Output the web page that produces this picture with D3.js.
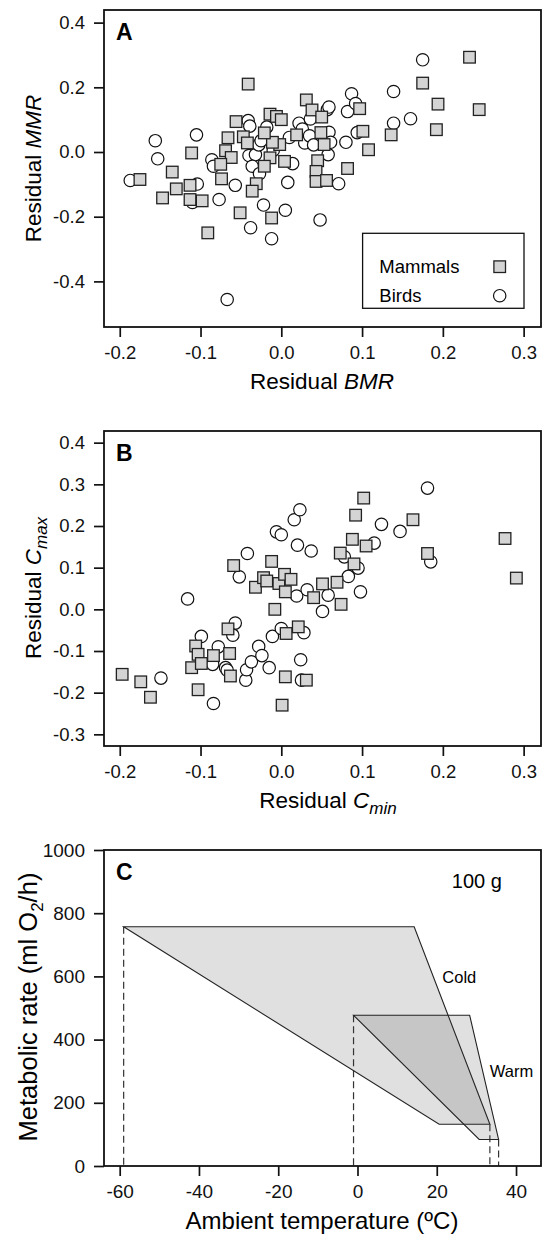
<!DOCTYPE html>
<html>
<head>
<meta charset="utf-8">
<script src="https://cdn.jsdelivr.net/npm/d3@7"></script>
<style>
  body { margin: 0; background: #fff; }
  svg { display: block; font-family: "Liberation Sans", Arial, Helvetica, sans-serif; }
</style>
</head>
<body>
<svg id="fig" width="544" height="1237"></svg>
<script>
// ---- panel A : residual BMR vs residual MMR ----
const mammalsA = [
  [0.233,0.293],[0.175,0.213],[0.194,0.148],[0.245,0.131],[0.192,0.069],[0.136,0.053],
  [0.108,0.007],[0.101,0.064],[0.097,0.134],[0.082,-0.051],[0.031,0.161],[0.038,0.130],
  [0.050,0.108],[0.049,0.060],[0.053,0.023],[0.045,-0.027],[0.043,-0.060],[0.043,-0.091],
  [0.056,-0.088],[0.019,0.053],[-0.002,0.023],[0.004,-0.029],[-0.014,0.117],[-0.006,0.110],
  [0.000,0.100],[-0.011,0.030],[-0.021,0.059],[-0.014,-0.018],[-0.021,-0.044],[-0.012,-0.204],
  [-0.041,0.210],[-0.056,0.094],[-0.047,0.047],[-0.042,0.028],[-0.066,0.044],[-0.069,0.004],
  [-0.062,-0.017],[-0.075,-0.038],[-0.074,-0.083],[-0.031,-0.098],[-0.036,-0.121],[-0.051,-0.188],
  [-0.091,-0.250],[-0.111,-0.003],[-0.135,-0.062],[-0.130,-0.114],[-0.113,-0.103],[-0.113,-0.147],
  [-0.098,-0.151],[-0.147,-0.142],[-0.175,-0.085]
];
const birdsA = [
  [-0.187,-0.088],[-0.156,0.035],[-0.153,-0.021],[-0.105,0.053],[-0.104,-0.099],[-0.110,-0.156],
  [-0.077,-0.147],[-0.086,-0.024],[-0.084,-0.044],[-0.057,-0.103],[-0.041,0.097],[-0.039,0.080],
  [-0.040,-0.011],[-0.032,-0.008],[-0.036,-0.044],[-0.027,-0.067],[-0.022,-0.164],[-0.038,-0.234],
  [-0.012,-0.268],[-0.067,-0.456],[0.005,-0.180],[0.008,-0.094],[-0.018,0.077],[-0.028,0.022],
  [-0.025,0.035],[0.010,0.045],[0.014,-0.036],[0.022,0.089],[0.026,0.071],[0.029,0.028],
  [0.035,0.050],[0.036,0.102],[0.040,0.022],[0.057,0.131],[0.059,0.139],[0.059,0.061],
  [0.058,-0.008],[0.061,0.030],[0.048,-0.210],[0.071,-0.098],[0.082,0.125],[0.087,0.180],
  [0.092,0.150],[0.080,0.030],[0.094,0.060],[0.139,0.187],[0.139,0.089],[0.160,0.103],
  [0.175,0.285],[-0.010,0.005]
];

// ---- panel B : residual Cmin vs residual Cmax ----
const mammalsB = [
  [-0.197,-0.156],[-0.174,-0.174],[-0.162,-0.211],[-0.103,-0.193],[-0.111,-0.140],[-0.106,-0.088],
  [-0.103,-0.108],[-0.099,-0.130],[-0.084,-0.111],[-0.066,-0.047],[-0.064,-0.106],[-0.063,-0.160],
  [-0.059,0.105],[-0.032,0.053],[-0.022,0.076],[-0.018,0.068],[-0.012,0.115],[-0.008,0.000],
  [-0.003,0.062],[0.004,0.084],[0.012,0.072],[0.005,0.042],[0.006,-0.058],[0.021,-0.042],
  [0.005,-0.162],[0.001,-0.230],[0.031,-0.170],[0.040,0.028],[0.051,0.061],[0.069,0.065],
  [0.074,0.012],[0.073,0.135],[0.088,0.168],[0.092,0.226],[0.102,0.267],[0.090,0.109],
  [0.105,0.152],[0.163,0.215],[0.181,0.134],[0.277,0.170],[0.291,0.075]
];
const birdsB = [
  [-0.149,-0.165],[-0.116,0.025],[-0.099,-0.065],[-0.085,-0.132],[-0.078,-0.090],[-0.069,-0.140],
  [-0.067,-0.146],[-0.084,-0.226],[-0.057,-0.033],[-0.060,-0.062],[-0.052,0.078],[-0.042,0.134],
  [-0.044,-0.170],[-0.043,-0.145],[-0.037,-0.126],[-0.028,-0.089],[-0.024,-0.111],[-0.015,-0.140],
  [-0.011,-0.065],[-0.006,0.186],[0.000,0.179],[0.000,-0.046],[0.016,0.215],[0.023,0.239],
  [0.020,0.154],[0.019,0.032],[0.032,0.047],[0.037,0.140],[0.028,-0.056],[0.024,-0.121],
  [0.025,-0.170],[0.058,0.034],[0.051,-0.005],[0.078,0.126],[0.083,0.079],[0.095,0.099],
  [0.098,0.042],[0.115,0.159],[0.124,0.204],[0.147,0.187],[0.181,0.291],[0.185,0.114]
];

// ---- panel C : metabolic scope polygons (temperature, ml O2/h) ----
const coldPoly = [[-59.0,757],[14.3,757],[33.4,132],[20.6,132]];
const warmPoly = [[-1.0,477],[28.3,477],[35.6,84],[30.7,84]];
const dropTemps = [[-59.0,757],[-1.0,477],[33.4,132],[35.6,84]];

// ticks
const residTicksX = [-0.2,-0.1,0.0,0.1,0.2,0.3];
const ticksYA = [-0.4,-0.2,0.0,0.2,0.4];
const ticksYB = [-0.3,-0.2,-0.1,0.0,0.1,0.2,0.3,0.4];
const tempTicks = [-60,-40,-20,0,20,40];
const rateTicks = [0,200,400,600,800,1000];

const svg = d3.select("#fig");
const left = 104, right = 541;
const W = right - left;
const fmt1 = d => d.toFixed(1);
const fmt0 = d => String(d);

function makePanel(top, bottom, xDom, yDom, xt, yt, fx, fy, fs) {
  const h = bottom - top;
  const g = svg.append("g").attr("transform", `translate(${left},${top})`);
  const x = d3.scaleLinear().domain(xDom).range([0, W]);
  const y = d3.scaleLinear().domain(yDom).range([h, 0]);

  const ax = g.append("g").attr("transform", `translate(0,${h})`)
    .call(d3.axisBottom(x).tickValues(xt).tickFormat(fx).tickSize(10).tickPadding(9));
  const ay = g.append("g")
    .call(d3.axisLeft(y).tickValues(yt).tickFormat(fy).tickSize(10).tickPadding(9));
  [ax, ay].forEach(a => {
    a.select(".domain").remove();
    a.attr("font-family", null).attr("font-size", fs);
    a.selectAll("line").attr("stroke", "#111").attr("stroke-width", 1.7);
    a.selectAll("text").attr("fill", "#111");
  });
  return { g, x, y, h };
}

function frame(p) {
  p.g.append("rect").attr("width", W).attr("height", p.h)
    .attr("fill", "none").attr("stroke", "#111").attr("stroke-width", 1.8);
}

function scatter(p, mammals, birds) {
  p.g.append("g").selectAll("circle").data(birds).enter().append("circle")
    .attr("cx", d => p.x(d[0])).attr("cy", d => p.y(d[1])).attr("r", 6.2)
    .attr("fill", "#fff").attr("stroke", "#111").attr("stroke-width", 1.2);
  p.g.append("g").selectAll("rect").data(mammals).enter().append("rect")
    .attr("x", d => p.x(d[0]) - 5.8).attr("y", d => p.y(d[1]) - 5.8)
    .attr("width", 11.6).attr("height", 11.6)
    .attr("fill", "#d4d4d4").attr("stroke", "#222").attr("stroke-width", 1.3);
}

function letter(p, t) {
  p.g.append("text").attr("x", 12).attr("y", 30)
    .attr("font-size", 23).attr("font-weight", "bold").text(t);
}

// ---------- A ----------
const pA = makePanel(10, 327, [-0.2195, 0.3215], [-0.541, 0.439], residTicksX, ticksYA, fmt1, fmt1, 18.5);
scatter(pA, mammalsA, birdsA);
frame(pA);
letter(pA, "A");

const leg = pA.g.append("g").attr("transform", "translate(258.6,223.3)");
leg.append("rect").attr("width", 161.4).attr("height", 75)
  .attr("fill", "#fff").attr("stroke", "#111").attr("stroke-width", 1.3);
leg.append("text").attr("x", 16.7).attr("y", 40).attr("font-size", 18.5).text("Mammals");
leg.append("text").attr("x", 16.7).attr("y", 68.4).attr("font-size", 18.5).text("Birds");
leg.append("rect").attr("x", 131.3).attr("y", 27.6).attr("width", 11.6).attr("height", 11.6)
  .attr("fill", "#d4d4d4").attr("stroke", "#222").attr("stroke-width", 1.3);
leg.append("circle").attr("cx", 137.1).attr("cy", 62.4).attr("r", 6.2)
  .attr("fill", "#fff").attr("stroke", "#111").attr("stroke-width", 1.2);

const tA = svg.append("text").attr("x", 322).attr("y", 389).attr("text-anchor", "middle").attr("font-size", 22.5);
tA.append("tspan").text("Residual ");
tA.append("tspan").attr("font-style", "italic").text("BMR");

const yA = svg.append("text").attr("transform", "translate(41,168.5) rotate(-90)")
  .attr("text-anchor", "middle").attr("font-size", 22.5);
yA.append("tspan").text("Residual ");
yA.append("tspan").attr("font-style", "italic").text("MMR");

// ---------- B ----------
const pB = makePanel(431, 746, [-0.2195, 0.3215], [-0.328, 0.428], residTicksX, ticksYB, fmt1, fmt1, 18.5);
scatter(pB, mammalsB, birdsB);
frame(pB);
letter(pB, "B");

const tB = svg.append("text").attr("x", 328).attr("y", 808).attr("text-anchor", "middle").attr("font-size", 22.5);
tB.append("tspan").text("Residual ");
tB.append("tspan").attr("font-style", "italic").text("C");
tB.append("tspan").attr("font-style", "italic").attr("font-size", 17).attr("dy", 6).text("min");

const yB = svg.append("text").attr("transform", "translate(41,588) rotate(-90)")
  .attr("text-anchor", "middle").attr("font-size", 22.5);
yB.append("tspan").text("Residual ");
yB.append("tspan").attr("font-style", "italic").text("C");
yB.append("tspan").attr("font-style", "italic").attr("font-size", 17).attr("dy", 6).text("max");

// ---------- C ----------
const pC = makePanel(850, 1166, [-63.96, 46.3], [0, 1000], tempTicks, rateTicks, fmt0, fmt0, 19);
const line = d3.line().x(d => pC.x(d[0])).y(d => pC.y(d[1]));

pC.g.append("g").selectAll("line").data(dropTemps).enter().append("line")
  .attr("x1", d => pC.x(d[0])).attr("x2", d => pC.x(d[0]))
  .attr("y1", d => pC.y(d[1])).attr("y2", pC.y(0))
  .attr("stroke", "#333").attr("stroke-width", 1.2).attr("stroke-dasharray", "7,4");

[coldPoly, warmPoly].forEach(poly => {
  pC.g.append("path").attr("d", line(poly) + "Z")
    .attr("fill", "#3e3e3e").attr("fill-opacity", 0.16)
    .attr("stroke", "#222").attr("stroke-width", 1.1).attr("stroke-linejoin", "miter");
});

pC.g.append("text").attr("x", pC.x(23.8)).attr("y", pC.y(880)).attr("font-size", 20).text("100 g");
pC.g.append("text").attr("x", pC.x(21.4)).attr("y", pC.y(580)).attr("font-size", 16.5).text("Cold");
pC.g.append("text").attr("x", pC.x(33.4)).attr("y", pC.y(282)).attr("font-size", 16.5).text("Warm");
frame(pC);
letter(pC, "C");

svg.append("text").attr("x", 322).attr("y", 1229).attr("text-anchor", "middle")
  .attr("font-size", 24).text("Ambient temperature (ºC)");

const yC = svg.append("text").attr("transform", "translate(37,1007) rotate(-90)")
  .attr("text-anchor", "middle").attr("font-size", 25.5);
yC.append("tspan").text("Metabolic rate (ml O");
yC.append("tspan").attr("font-size", 17).attr("dy", 6).text("2");
yC.append("tspan").attr("dy", -6).text("/h)");
</script>
</body>
</html>
